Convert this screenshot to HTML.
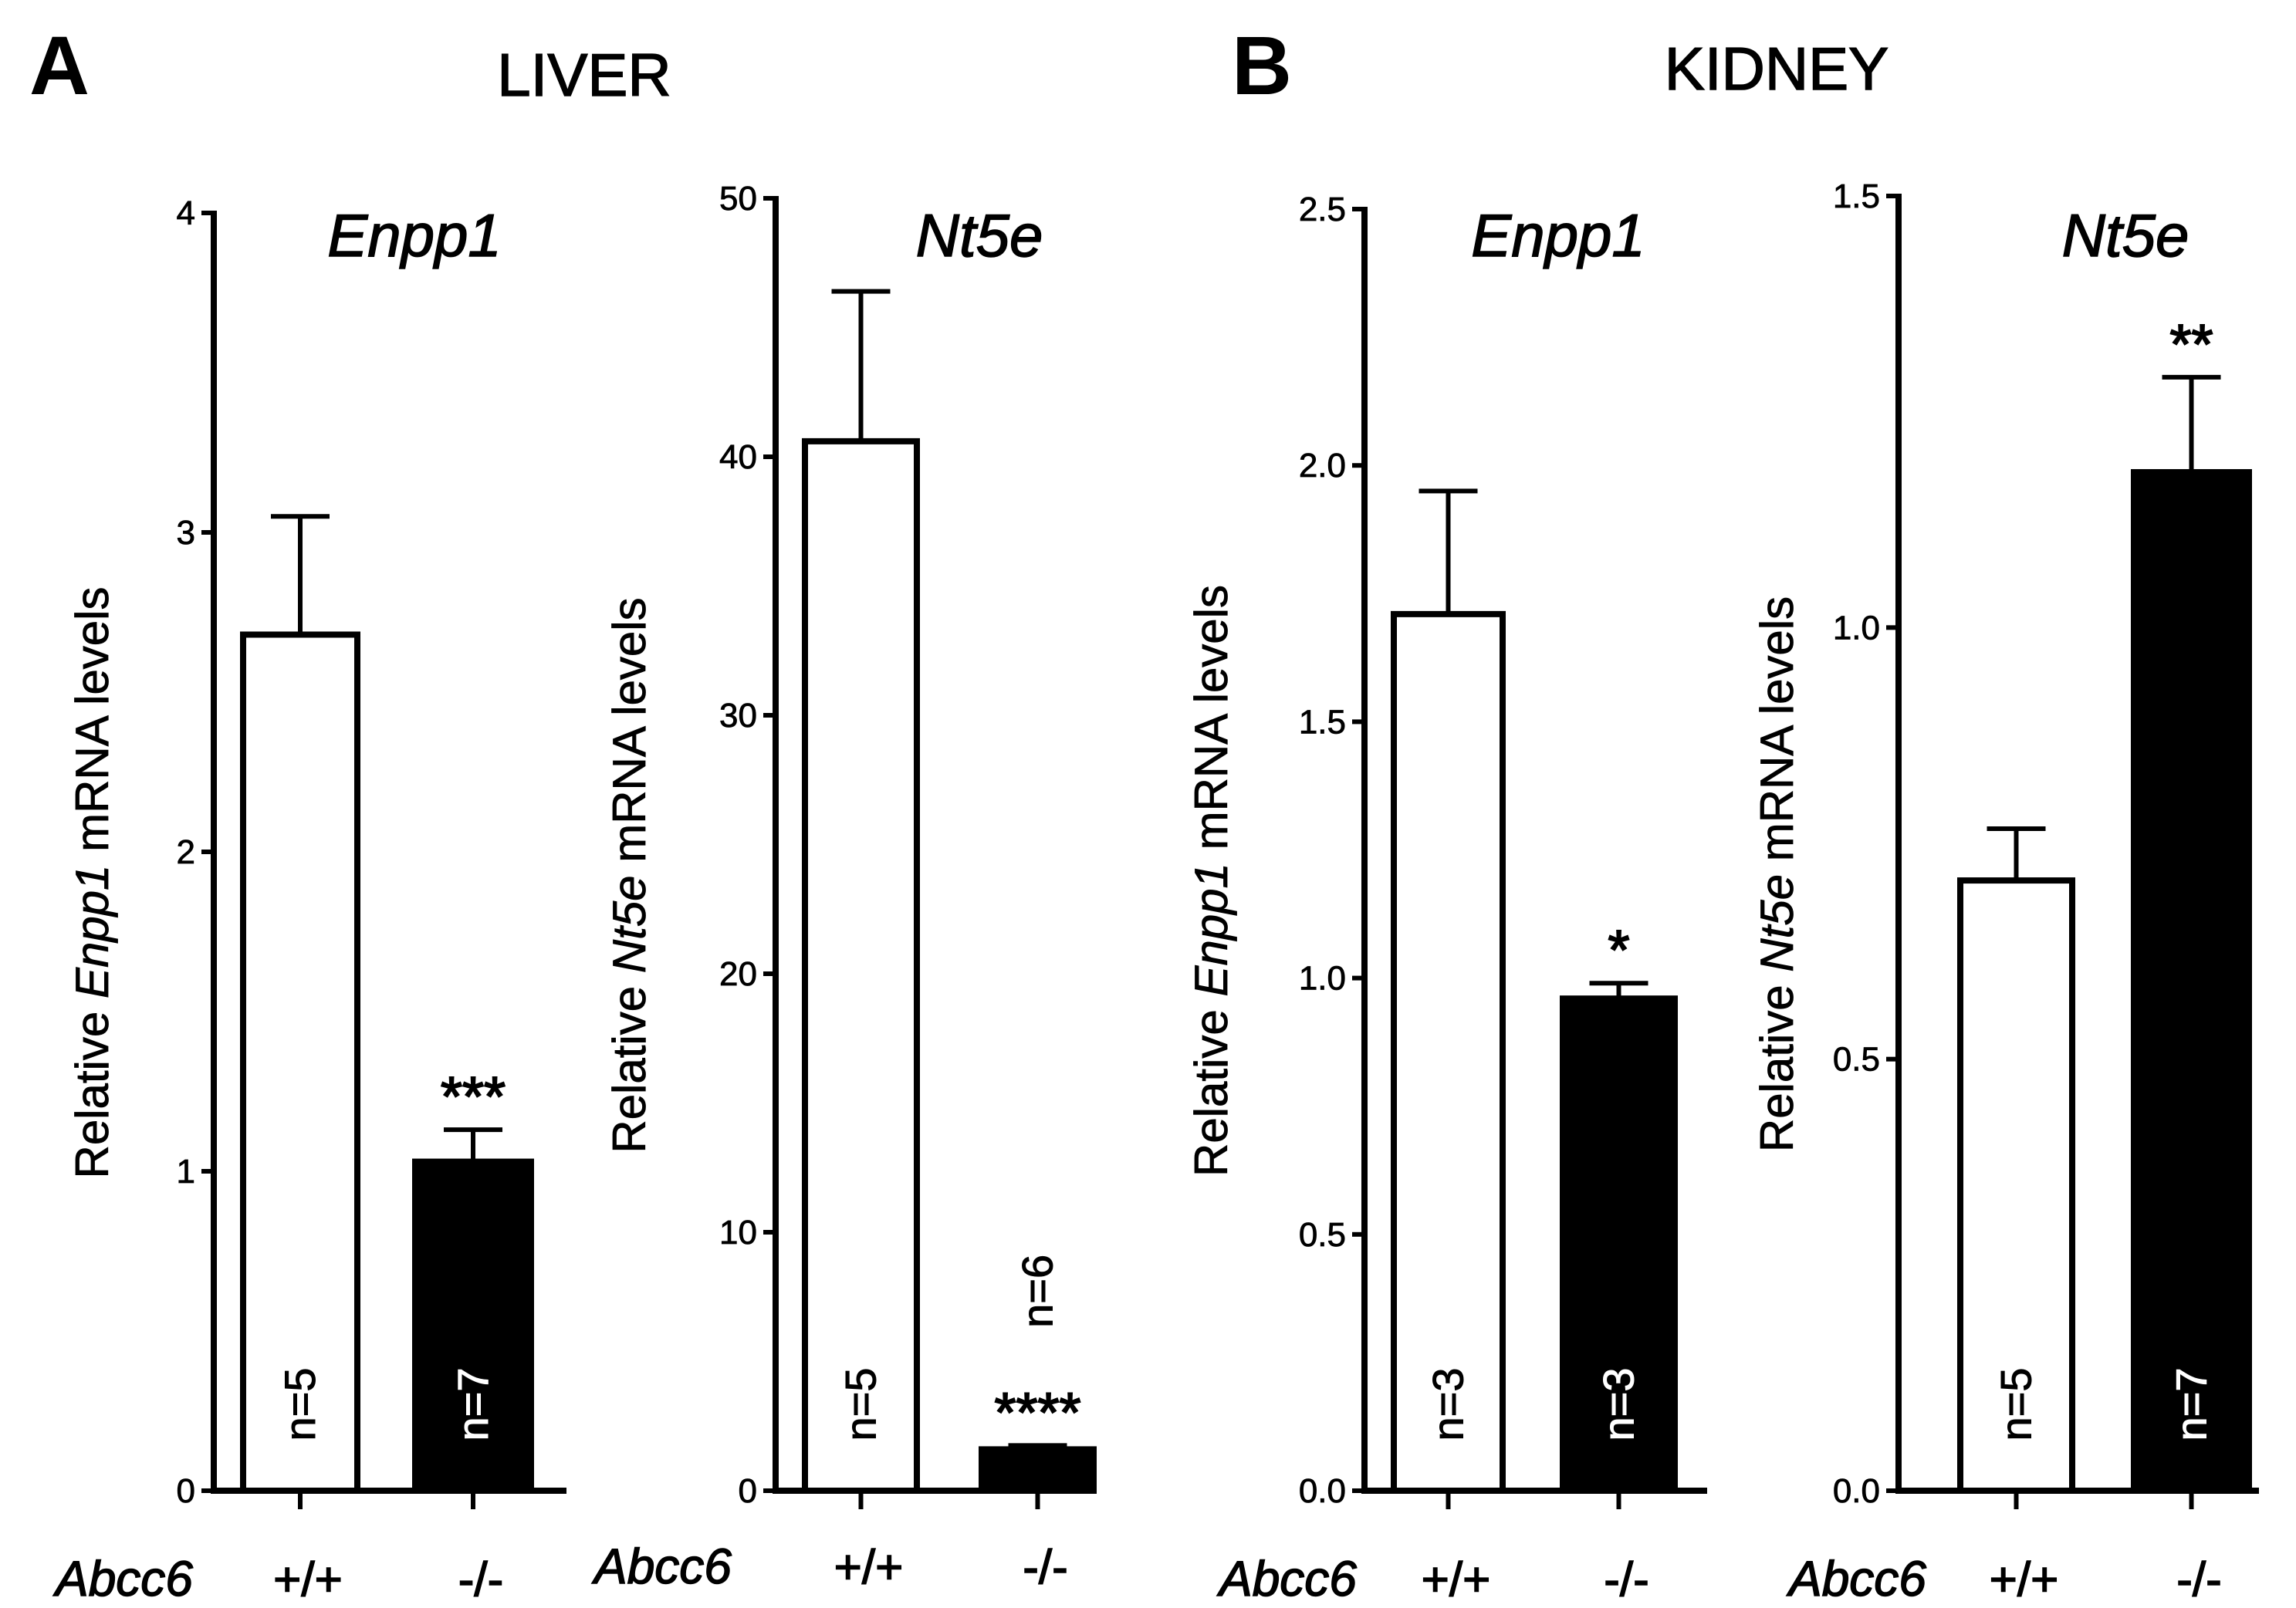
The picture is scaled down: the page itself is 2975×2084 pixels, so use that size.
<!DOCTYPE html>
<html><head><meta charset="utf-8"><style>
html,body{margin:0;padding:0;background:#fff}
svg{display:block;font-family:"Liberation Sans",Arial,sans-serif}
</style></head><body>
<svg id="fig" width="2975" height="2084" viewBox="0 0 2975 2084" xmlns="http://www.w3.org/2000/svg">
<text x="38" y="122" font-size="108" font-weight="bold">A</text>
<text x="757" y="124" font-size="78" text-anchor="middle" stroke="#000" stroke-width="1.5">LIVER</text>
<text x="1596" y="122" font-size="108" font-weight="bold">B</text>
<text x="2302" y="116" font-size="78" text-anchor="middle" stroke="#000" stroke-width="1.5">KIDNEY</text>
</svg>
<script>
const liverEnppValues=[2.68,1.03];
const liverEnppErrors=[0.37,0.10];
const liverEnppTicks=["0","1","2","3","4"];
const liverNt5eValues=[40.6,1.6];
const liverNt5eErrors=[5.8,0.15];
const liverNt5eTicks=["0","10","20","30","40","50"];
const kidneyEnppValues=[1.71,0.96];
const kidneyEnppErrors=[0.24,0.03];
const kidneyEnppTicks=["0.0","0.5","1.0","1.5","2.0","2.5"];
const kidneyNt5eValues=[0.707,1.18];
const kidneyNt5eErrors=[0.06,0.11];
const kidneyNt5eTicks=["0.0","0.5","1.0","1.5"];
const groups=["+/+","-/-"];
const liverEnppN=["n=5","n=7"];
const liverNt5eN=["n=5","n=6"];
const kidneyEnppN=["n=3","n=3"];
const kidneyNt5eN=["n=5","n=7"];
const svg=document.getElementById('fig');
const NS="http://www.w3.org/2000/svg";
function mk(tag,attrs,parent){const e=document.createElementNS(NS,tag);for(const k in attrs)e.setAttribute(k,attrs[k]);(parent||svg).appendChild(e);return e;}
const panels=[
 {id:'liver-enpp1',gene:'Enpp1',ax:277,top:276,zero:1932,xEnd:734,max:4,ticks:liverEnppTicks,vals:liverEnppValues,errs:liverEnppErrors,n:liverEnppN,bars:[[311,467],[534,692]],stars:["","***"],titleX:543,ytX:140,abx:72,aby:2068,nOut:[false,false]},
 {id:'liver-nt5e',gene:'Nt5e',ax:1005,top:257,zero:1932,xEnd:1421,max:50,ticks:liverNt5eTicks,vals:liverNt5eValues,errs:liverNt5eErrors,n:liverNt5eN,bars:[[1039,1192],[1268,1421]],stars:["","****"],titleX:1275,ytX:836,abx:770,aby:2052,nOut:[false,true]},
 {id:'kidney-enpp1',gene:'Enpp1',ax:1768,top:271,zero:1932,xEnd:2212,max:2.5,ticks:kidneyEnppTicks,vals:kidneyEnppValues,errs:kidneyEnppErrors,n:kidneyEnppN,bars:[[1802,1951],[2021,2174]],stars:["","*"],titleX:2025,ytX:1590,abx:1580,aby:2068,nOut:[false,false]},
 {id:'kidney-nt5e',gene:'Nt5e',ax:2460,top:254,zero:1932,xEnd:2927,max:1.5,ticks:kidneyNt5eTicks,vals:kidneyNt5eValues,errs:kidneyNt5eErrors,n:kidneyNt5eN,bars:[[2536,2689],[2761,2918]],stars:["","**"],titleX:2760,ytX:2323,abx:2318,aby:2068,nOut:[false,false]}
];
panels.forEach(p=>{
 const g=mk('g',{});
 
 
 const y=v=>p.zero-(v/p.max)*(p.zero-p.top);
 const nt=p.ticks.length;
 p.ticks.forEach((t,i)=>{
  const v=p.max*i/(nt-1);const yy=y(v);
  const tk=mk('line',{x1:p.ax-16,x2:p.ax,y1:yy,y2:yy,stroke:'#000','stroke-width':6},g);
  
  
  const tl=mk('text',{x:p.ax-24,y:yy+15,'font-size':44,'text-anchor':'end',stroke:'#000','stroke-width':0.8},g);
  
  
  tl.textContent=t;
 });
 p.vals.forEach((v,i)=>{
  const [x0,x1]=p.bars[i];const cx=(x0+x1)/2;const yt=y(v);const ye=y(v+p.errs[i]);
  const el=mk('line',{x1:cx,x2:cx,y1:yt,y2:ye,stroke:'#000','stroke-width':6},g);
  
  
  const ec=mk('line',{x1:cx-38,x2:cx+38,y1:ye,y2:ye,stroke:'#000','stroke-width':6},g);
  
  
  const r=mk('rect',{x:x0+4,y:yt,width:x1-x0-8,height:p.zero-yt,fill:i?'#000':'#fff',stroke:'#000','stroke-width':8},g);
  
  
  const ny=p.nOut[i]?ye-200:p.zero-112;
  const nl=mk('text',{x:0,y:0,'font-size':56,'text-anchor':'middle',fill:(i&&!p.nOut[i])?'#fff':'#000',stroke:(i&&!p.nOut[i])?'#fff':'#000','stroke-width':1,transform:`translate(${cx+19},${ny}) rotate(-90)`},g);
  
  
  nl.textContent=p.n[i];
  if(p.stars[i]){
   const s=mk('text',{x:cx,y:ye-18,'font-size':72,'text-anchor':'middle',stroke:'#000','stroke-width':2},g);
   
   
   s.textContent=p.stars[i];
  }
  const xt=mk('line',{x1:cx,x2:cx,y1:p.zero,y2:p.zero+24,stroke:'#000','stroke-width':6},g);
  
  
  const xl=mk('text',{x:cx+10,y:p.aby,'font-size':62,'text-anchor':'middle',stroke:'#000','stroke-width':1.5},g);
  
  
  xl.textContent=groups[i];
 });
 const ya=mk('line',{x1:p.ax,x2:p.ax,y1:p.top-3,y2:p.zero+4,stroke:'#000','stroke-width':8},g);
 
 
 const xa=mk('line',{x1:p.ax-4,x2:p.xEnd,y1:p.zero,y2:p.zero,stroke:'#000','stroke-width':8},g);
 
 
 const ti=mk('text',{x:p.titleX-6,y:332,'font-size':78,'font-style':'italic','text-anchor':'middle',stroke:'#000','stroke-width':1.5},g);
 
 
 ti.textContent=p.gene;
 const yt=mk('text',{x:0,y:0,'font-size':60,'text-anchor':'middle',stroke:'#000','stroke-width':0.8,transform:`translate(${p.ytX},${(p.top+p.zero)/2+40}) rotate(-90)`},g);
 
 
 yt.innerHTML=`Relative <tspan font-style="italic">${p.gene}</tspan> mRNA levels`;
 const ab=mk('text',{x:p.abx,y:p.aby,'font-size':64,'font-style':'italic',stroke:'#000','stroke-width':1.5},g);
 
 
 ab.textContent='Abcc6';
});
</script>
</body></html>
